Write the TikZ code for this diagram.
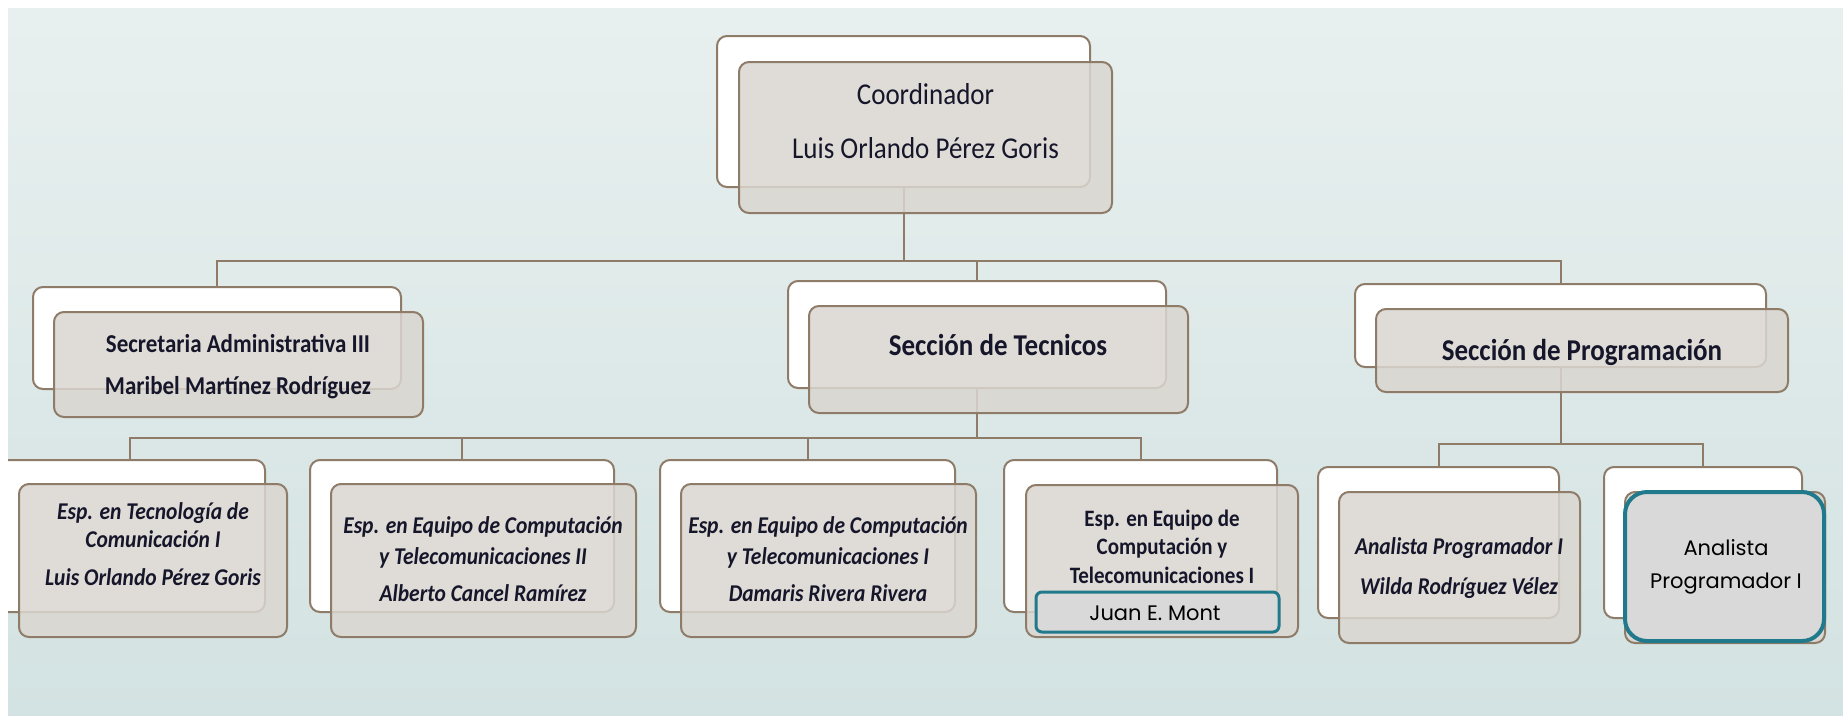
\documentclass[tikz,border=0pt]{standalone}
\usepackage{fontspec}
\usepackage{graphicx}
\setmainfont{Carlito}
\newfontfamily\gothic{Poppins}
\usetikzlibrary{fit}
\definecolor{brd}{HTML}{8E7C68}
\definecolor{frontc}{HTML}{DAD6D0}
\definecolor{bgtop}{HTML}{E8F0EF}
\definecolor{bgbot}{HTML}{D3E2E2}
\definecolor{tealb}{HTML}{217A8C}
\definecolor{greyb}{HTML}{D9D9D9}
\definecolor{txtc}{HTML}{16162A}
\newcommand{\myfs}[1]{\fontsize{#1}{#1}\selectfont}
\newcommand{\vst}[1]{\scalebox{1}[1.12]{#1}}
\tikzset{
  backbox/.style={draw=brd, fill=white, rounded corners=10pt, line width=2pt, inner sep=0pt, outer sep=0pt},
  frontbox/.style={draw=brd, fill=frontc, fill opacity=0.85, rounded corners=10pt, line width=2pt, inner sep=0pt, outer sep=0pt},
  tealbox/.style={draw=tealb, fill=greyb, line width=4pt, rounded corners=22pt, inner sep=0pt},
  tealsmall/.style={draw=tealb, fill=greyb, line width=3pt, rounded corners=6pt, inner sep=0pt},
  conn/.style={draw=brd, line width=2pt},
  txt/.style={inner sep=0pt, anchor=base, text=txtc},
  rg/.style={txt, font={\myfs{27}}},
  bd/.style={txt, font={\myfs{#1}\bfseries}},
  bi/.style={txt, font={\myfs{21.5}\bfseries\itshape}},
  gt/.style={txt, text=black, font={\gothic\myfs{#1}}}
}
\begin{document}
\begin{tikzpicture}[x=1pt,y=-1pt]
\useasboundingbox (0,0) rectangle (1843,715);
\shade[top color=bgtop, bottom color=bgbot] (8,8) rectangle (1843,715);

% back boxes
\node[backbox, fit={(717,36) (1090,187)}] (coordB) {};
\node[backbox, fit={(33,287) (401,389)}] (secB) {};
\node[backbox, fit={(788,281) (1166,388)}] (tecB) {};
\node[backbox, fit={(1355,284) (1766,367)}] (progB) {};
\node[backbox, fit={(-5,460) (265,612)}] (t1B) {};
\node[backbox, fit={(310,460) (614,612)}] (t2B) {};
\node[backbox, fit={(660,460) (955,612)}] (t3B) {};
\node[backbox, fit={(1004,460) (1277,612)}] (t4B) {};
\node[backbox, fit={(1318,467) (1559,618)}] (p1B) {};
\node[backbox, fit={(1604,467) (1802,618)}] (p2B) {};

% connectors
\path (coordB.south) ++(0,74) coordinate (bus1);
\draw[conn] (coordB.south) -- (bus1) -| (secB.north);
\draw[conn] (bus1) -| (tecB.north);
\draw[conn] (bus1) -| (progB.north);
\path (tecB.south) ++(0,50) coordinate (bus2);
\draw[conn] (tecB.south) -- (bus2) -| (t1B.north);
\draw[conn] (bus2) -| (t2B.north);
\draw[conn] (bus2) -| (t3B.north);
\draw[conn] (bus2) -| (t4B.north);
\path (progB.south) ++(0,77) coordinate (bus3);
\draw[conn] (progB.south) -- (bus3) -| (p1B.north);
\draw[conn] (bus3) -| (p2B.north);

% front boxes
\node[frontbox, fit={(739,62) (1112,213)}] (coordF) {};
\node[frontbox, fit={(54,312) (423,417)}] (secF) {};
\node[frontbox, fit={(809,306) (1188,413)}] (tecF) {};
\node[frontbox, fit={(1376,309) (1788,392)}] (progF) {};
\node[frontbox, fit={(19,484) (287,637)}] (t1F) {};
\node[frontbox, fit={(331,484) (636,637)}] (t2F) {};
\node[frontbox, fit={(681,484) (976,637)}] (t3F) {};
\node[frontbox, fit={(1026,485) (1298,637)}] (t4F) {};
\node[frontbox, fit={(1339,492) (1580,643)}] (p1F) {};
\node[frontbox, fit={(1625,492) (1825,643)}] (p2F) {};
\node[tealbox, fit={(1625,492) (1824,641)}] (p2T) {};
\node[tealsmall, fit={(1036,592) (1279,632)}] (juanT) {};

% texts
\node[rg] (coordL1) at (925.5,104.6) {\vst{Coordinador}};
\node[rg] (coordL2) at (925.5,158) {\vst{Luis Orlando Pérez Goris}};
\node[bd=23] (secL1) at (238,352.4) {\vst{Secretaria Administrativa III}};
\node[bd=23] (secL2) at (238,394.4) {\vst{Maribel Martínez Rodríguez}};
\node[bd=27] (tecL) at (998,355.6) {\vst{Sección de Tecnicos}};
\node[bd=27] (progL) at (1582,360.6) {\vst{Sección de Programación}};

\node[bi] (t1L1) at (153,519.5) {\vst{Esp. en Tecnología de}};
\node[bi] (t1L2) at (153,547.5) {\vst{Comunicación I}};
\node[bi] (t1L3) at (153,585) {\vst{Luis Orlando Pérez Goris}};

\node[bi] (t2L1) at (483,533.9) {\vst{Esp. en Equipo de Computación}};
\node[bi] (t2L2) at (483,564.9) {\vst{y Telecomunicaciones II}};
\node[bi] (t2L3) at (483,601.9) {\vst{Alberto Cancel Ramírez}};

\node[bi] (t3L1) at (828,533.9) {\vst{Esp. en Equipo de Computación}};
\node[bi] (t3L2) at (828,564.9) {\vst{y Telecomunicaciones I}};
\node[bi] (t3L3) at (828,601.9) {\vst{Damaris Rivera Rivera}};

\node[bd=21] (t4L1) at (1162,526.7) {\vst{Esp. en Equipo de}};
\node[bd=21] (t4L2) at (1162,554.7) {\vst{Computación y}};
\node[bd=21] (t4L3) at (1162,583.7) {\vst{Telecomunicaciones I}};
\node[gt=21] (juanL) at (1155,620.5) {Juan E. Mont};

\node[bi] (p1L1) at (1459,554.9) {\vst{Analista Programador I}};
\node[bi] (p1L2) at (1459,594.9) {\vst{Wilda Rodríguez Vélez}};

\node[gt=21] (p2L1) at (1726,555.5) {Analista};
\node[gt=21] (p2L2) at (1726,588) {Programador I};

% white page margins
\fill[white] (0,0) rectangle (8,715);
\fill[white] (0,0) rectangle (1843,8);
\end{tikzpicture}
\end{document}
